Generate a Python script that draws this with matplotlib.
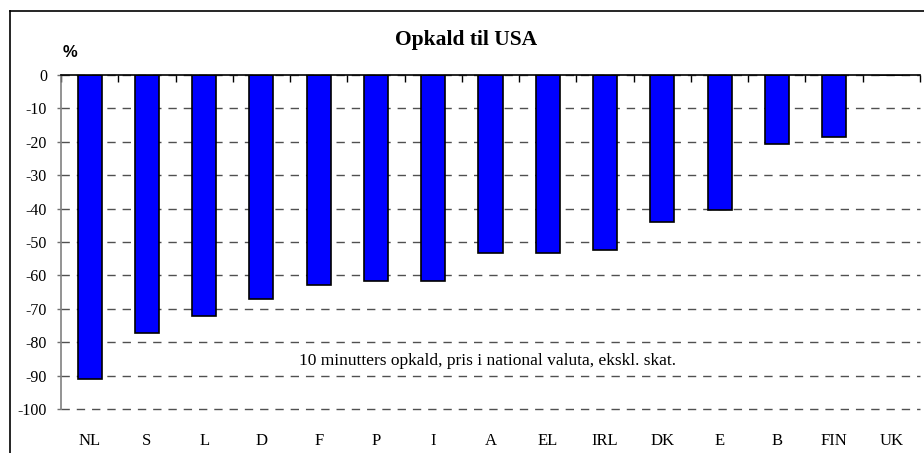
#!/usr/bin/env python3

import numpy as np
import matplotlib
matplotlib.use("Agg")
import matplotlib.pyplot as plt
from matplotlib.lines import Line2D

# Data
countries = ['NL', 'S', 'L', 'D', 'F', 'P', 'I', 'A', 'EL', 'IRL', 'DK', 'E', 'B', 'FIN', 'UK']
change_pct = [-91, -77.3, -72.2, -67, -62.9, -61.7, -61.7, -53.2, -53.2, -52.5, -43.9, -40.5, -20.7, -18.5, 0]
yticks = [0, -10, -20, -30, -40, -50, -60, -70, -80, -90, -100]

title = 'Opkald til USA'
note = '10 minutters opkald, pris i national valuta, ekskl. skat.'

serif = ['Liberation Serif', 'DejaVu Serif']
sans = ['Liberation Sans', 'DejaVu Sans']


def plot_chart():
    fig = plt.figure(figsize=(9.24, 4.53), dpi=100)
    ax = fig.add_axes([0.066, 0.0971, 0.9297, 0.7373])

    x = np.arange(len(countries))
    ax.bar(x, change_pct, width=0.42, color='#0000ff', edgecolor='black',
           linewidth=1.2, zorder=3)

    ax.set_xlim(-0.5, len(countries) - 0.5)
    ax.set_ylim(-100, 0)

    # dashed grey grid lines
    ax.set_yticks(yticks)
    ax.yaxis.grid(True, linestyle=(0, (6, 5)), color='#505050', linewidth=1.0, zorder=0)
    for gl in ax.get_ygridlines():
        gl.set_clip_on(False)
    ax.set_yticklabels([str(v) for v in yticks], fontfamily=serif, fontsize=11.5)
    ax.tick_params(axis='y', direction='out', length=3, width=1, color='#707070', pad=7)

    # category labels at the bottom, tick marks on the zero line
    ax.set_xticks(x)
    ax.set_xticklabels(countries, fontfamily=serif, fontsize=12)
    ax.set_xticks(np.arange(len(countries) + 1) - 0.5, minor=True)
    ax.tick_params(axis='x', which='major', length=0, pad=17)
    ax.tick_params(axis='x', which='minor', top=True, bottom=False,
                   direction='in', length=5, width=1, color='black')

    ax.spines['bottom'].set_visible(False)
    ax.spines['right'].set_visible(False)
    ax.spines['top'].set_color('black')
    ax.spines['top'].set_linewidth(1.2)
    ax.spines['left'].set_color('#808080')
    ax.spines['left'].set_linewidth(1.2)
    ax.spines['top'].set_zorder(4)

    ax.text(6.95, -85.6, note, ha='center', va='center',
            fontfamily=serif, fontsize=12.5, zorder=5)

    fig.text(0.504, 0.912, title, ha='center', va='center',
             fontfamily=serif, fontsize=15.5, fontweight='bold')
    fig.text(0.076, 0.885, '%', ha='center', va='center',
             fontfamily=sans, fontsize=12, fontweight='bold')

    # frame around the chart (only left and top edges visible)
    fig.add_artist(Line2D([10 / 924, 10 / 924], [0, 1 - 11 / 453],
                          transform=fig.transFigure, color='black', linewidth=1.2))
    fig.add_artist(Line2D([10 / 924, 1], [1 - 11 / 453, 1 - 11 / 453],
                          transform=fig.transFigure, color='black', linewidth=1.2))

    fig.savefig('out.png', dpi=100)


if __name__ == "__main__":
    plot_chart()
